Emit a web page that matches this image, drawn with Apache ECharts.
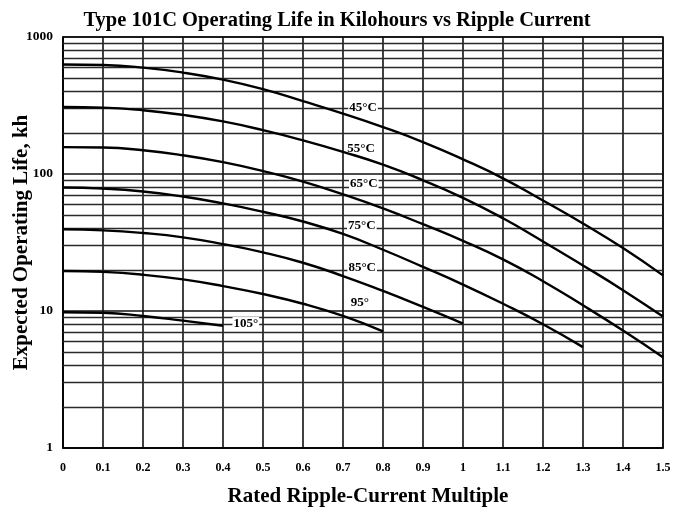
<!DOCTYPE html>
<html>
<head>
<meta charset="utf-8">
<script src="https://cdn.jsdelivr.net/npm/echarts@6/dist/echarts.min.js"></script>
<style>
  html, body { margin: 0; padding: 0; background: #fff; }
</style>
</head>
<body>
<!-- CHART: Type 101C operating life vs ripple current -->
<div id="lifechart" style="width:674px; height:510px"></div>
<script>
// ripple-current multiple, one point every 0.1
var ripple = [0, 0.1, 0.2, 0.3, 0.4, 0.5, 0.6, 0.7, 0.8, 0.9, 1.0, 1.1, 1.2, 1.3, 1.4, 1.5];

// expected life in kh
var life45 = [630, 625, 598, 550, 488, 416, 340, 276, 220, 171, 128, 93, 64, 43.5, 28.8, 18.2];
var life55 = [308, 305, 292, 270, 242, 209, 176, 145, 117, 90, 67, 47.5, 32.2, 21.5, 14.2, 9.1];
var life65 = [157, 156, 149, 137, 122, 105, 88, 71, 56, 43, 32.5, 23.8, 16.5, 11, 7.2, 4.6];
var life75 = [79.6, 78.2, 74.5, 68.5, 61, 53, 45, 36.5, 28, 21, 15.6, 11.3, 8.0, 5.45];
var life85 = [39.4, 38.8, 37.1, 34.5, 30.8, 26.8, 22.5, 18.0, 14.0, 10.7, 8.1];
var life95 = [19.6, 19.3, 18.4, 17.0, 15.2, 13.3, 11.3, 9.2, 7.1];
var life105 = [9.8, 9.7, 9.2, 8.5, 7.8];

var curveNames = ['45°C', '55°C', '65°C', '75°C', '85°C', '95°', '105°'];
// where each curve's name sits (x multiple, life kh)
var labelX = [0.75, 0.745, 0.752, 0.747, 0.748, 0.742, 0.457];
var labelY = [305, 154, 85.5, 42.2, 20.8, 11.6, 8.1];

// log paper rulings between the decades
var minorGrid = [2, 3, 4, 5, 6, 7, 8, 9, 20, 30, 40, 50, 60, 70, 80, 90, 200, 300, 400, 500, 600, 700, 800, 900];

var serif = '"Liberation Serif", "Times New Roman", serif';

function pairs(vals) {
  var out = [];
  for (var i = 0; i < vals.length; i++) out.push([ripple[i], vals[i]]);
  return out;
}

var allCurves = [life45, life55, life65, life75, life85, life95, life105];

var series = allCurves.map(function (vals, i) {
  return {
    name: curveNames[i],
    type: 'line',
    data: pairs(vals),
    smooth: 0.5,
    showSymbol: false,
    silent: true,
    lineStyle: { color: '#000', width: 2.4 },
    z: 5,
    markPoint: {
      symbol: 'circle',
      symbolSize: 0,
      silent: true,
      data: [{ coord: [labelX[i], labelY[i]] }],
      label: {
        show: true,
        position: 'inside',
        formatter: curveNames[i],
        color: '#000',
        fontFamily: serif,
        fontWeight: 'bold',
        fontSize: 13,
        backgroundColor: '#fff',
        padding: [0, 1]
      }
    }
  };
});

// empty carrier series for the minor horizontal rulings
series.push({
  name: 'rulings',
  type: 'line',
  data: [],
  silent: true,
  z: 1,
  markLine: {
    silent: true,
    symbol: ['none', 'none'],
    label: { show: false },
    lineStyle: { color: '#2a2a2a', type: 'solid', width: 1.3 },
    data: minorGrid.map(function (v) { return { yAxis: v }; })
  }
});

var chart = echarts.init(document.getElementById('lifechart'));
var option = {
  backgroundColor: '#fff',
  animation: false,
  title: {
    text: 'Type 101C Operating Life in Kilohours vs Ripple Current',
    left: 'center',
    top: 5,
    textStyle: { fontFamily: serif, fontWeight: 'bold', fontSize: 20.5, color: '#000' }
  },
  grid: {
    left: 63,
    right: 11,
    top: 37,
    bottom: 62,
    containLabel: false,
    outerBoundsMode: 'none',
    show: true,
    borderColor: '#000',
    borderWidth: 1.5
  },
  xAxis: {
    type: 'value',
    min: 0,
    max: 1.5,
    interval: 0.1,
    name: 'Rated Ripple-Current Multiple',
    nameLocation: 'middle',
    nameGap: 38,
    nameMoveOverlap: false,
    nameTextStyle: {
      fontFamily: serif, fontWeight: 'bold', fontSize: 21, color: '#000',
      padding: [0, 0, 0, 10]
    },
    axisLine: { lineStyle: { color: '#000', width: 1.5 } },
    axisTick: { show: false },
    axisLabel: { fontFamily: serif, fontWeight: 'bold', fontSize: 12, color: '#000', margin: 14 },
    splitLine: { show: true, lineStyle: { color: '#111', width: 1.6 } }
  },
  yAxis: {
    type: 'log',
    logBase: 10,
    min: 1,
    max: 1000,
    name: 'Expected Operating Life, kh',
    nameLocation: 'middle',
    nameGap: 31,
    nameMoveOverlap: false,
    nameTextStyle: { fontFamily: serif, fontWeight: 'bold', fontSize: 21, color: '#000' },
    axisLine: { show: true, lineStyle: { color: '#000', width: 1.5 } },
    axisTick: { show: false },
    axisLabel: {
      fontFamily: serif, fontWeight: 'bold', fontSize: 13.5, color: '#000', margin: 10,
      formatter: function (v) { return String(Math.round(v)); }
    },
    splitLine: { show: true, lineStyle: { color: '#111', width: 1.6 } }
  },
  series: series
};

option && chart.setOption(option);
</script>
</body>
</html>
